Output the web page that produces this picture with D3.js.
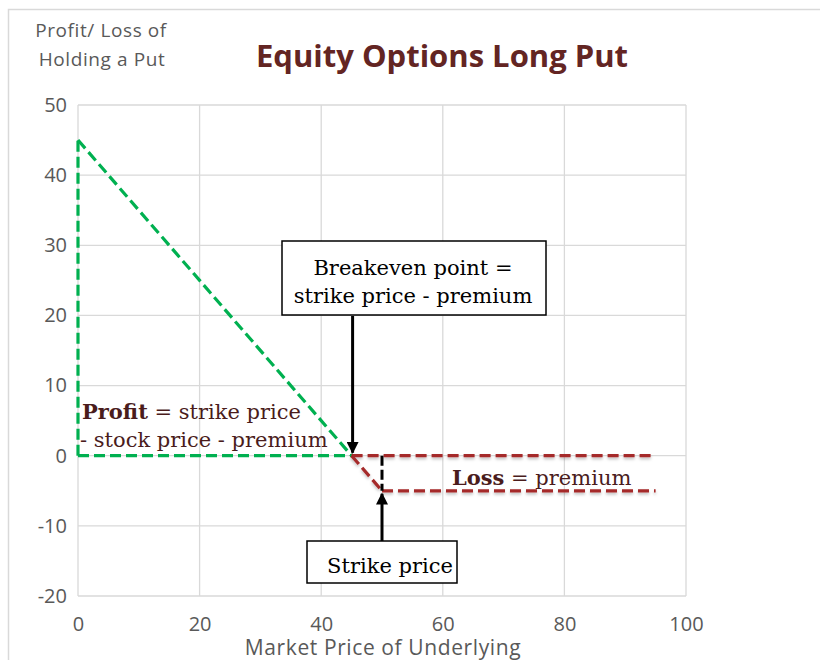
<!DOCTYPE html>
<html>
<head>
<meta charset="utf-8">
<script src="https://cdn.jsdelivr.net/npm/d3@7"></script>
<style>
  body { margin: 0; background: #fff; }
  .axis text { font-family: "Open Sans", sans-serif; }
  .note { font-family: "DejaVu Serif", "Liberation Serif", serif; }
</style>
</head>
<body>
<div id="chart"></div>
<script>
// axis ticks
var xTicks = [0, 20, 40, 60, 80, 100];
var yTicks = [-20, -10, 0, 10, 20, 30, 40, 50];

// payoff segments (market price, profit/loss)
var profitDiag = [[0, 45], [45, 0]];
var profitVert = [[0, 0], [0, 45]];
var profitBase = [[0, 0], [45, 0]];
var lossDiag = [[45, 0], [50, -5]];
var lossFloor = [[50, -5], [95, -5]];
var lossZero = [[45, 0], [95, 0]];
var strikeMark = [[50, 0], [50, -5]];

var breakeven = 45,
  strike = 50;

var width = 820,
  height = 660;

var svg = d3
  .select("#chart")
  .append("svg")
  .attr("width", width)
  .attr("height", height);

// outer frame
svg
  .append("rect")
  .attr("x", 8.5)
  .attr("y", 9.5)
  .attr("width", 830)
  .attr("height", 700)
  .attr("fill", "none")
  .attr("stroke", "#d9d9d9")
  .attr("stroke-width", 1.5);

var x = d3.scaleLinear().domain([0, 100]).range([78, 686]);
var y = d3.scaleLinear().domain([-20, 50]).range([596, 105]);

// grid
svg
  .append("g")
  .selectAll("line")
  .data(xTicks)
  .enter()
  .append("line")
  .attr("x1", (d) => x(d))
  .attr("x2", (d) => x(d))
  .attr("y1", y(50))
  .attr("y2", y(-20))
  .attr("stroke", "#d9d9d9")
  .attr("stroke-width", 1.3);

svg
  .append("g")
  .selectAll("line")
  .data(yTicks)
  .enter()
  .append("line")
  .attr("x1", x(0))
  .attr("x2", x(100))
  .attr("y1", (d) => y(d))
  .attr("y2", (d) => y(d))
  .attr("stroke", "#d9d9d9")
  .attr("stroke-width", 1.3);

// axes (labels only)
var xAxis = svg
  .append("g")
  .attr("class", "axis")
  .attr("transform", "translate(0," + y(-20) + ")")
  .call(
    d3
      .axisBottom(x)
      .tickValues(xTicks)
      .tickFormat((d) => String(d))
      .tickSize(0)
      .tickPadding(21)
  );
xAxis.select(".domain").remove();
xAxis.selectAll("text").attr("fill", "#595959").style("font-size", "20px");

var yAxis = svg
  .append("g")
  .attr("class", "axis")
  .attr("transform", "translate(" + x(0) + ",0)")
  .call(
    d3
      .axisLeft(y)
      .tickValues(yTicks)
      .tickFormat((d) => String(d))
      .tickSize(0)
      .tickPadding(11)
  );
yAxis.select(".domain").remove();
yAxis.selectAll("text").attr("fill", "#595959").style("font-size", "20px");

// titles
svg
  .append("text")
  .attr("x", 442)
  .attr("y", 67)
  .attr("text-anchor", "middle")
  .style("font-family", "'Open Sans', sans-serif")
  .style("font-weight", "bold")
  .style("font-size", "31px")
  .attr("fill", "#632523")
  .text("Equity Options Long Put");

svg
  .append("text")
  .attr("x", 101)
  .attr("y", 37)
  .attr("text-anchor", "middle")
  .style("font-family", "'Open Sans', sans-serif")
  .style("font-size", "19px")
  .style("letter-spacing", "0.6px")
  .attr("fill", "#595959")
  .text("Profit/ Loss of");
svg
  .append("text")
  .attr("x", 102)
  .attr("y", 66)
  .attr("text-anchor", "middle")
  .style("font-family", "'Open Sans', sans-serif")
  .style("font-size", "19px")
  .style("letter-spacing", "0.6px")
  .attr("fill", "#595959")
  .text("Holding a Put");

svg
  .append("text")
  .attr("x", 383)
  .attr("y", 655)
  .attr("text-anchor", "middle")
  .style("font-family", "'Open Sans', sans-serif")
  .style("font-size", "21px")
  .style("letter-spacing", "0.6px")
  .attr("fill", "#595959")
  .text("Market Price of Underlying");

// payoff lines
var line = d3
  .line()
  .x((d) => x(d[0]))
  .y((d) => y(d[1]));

var defs = svg.append("defs");
var shadow = defs
  .append("filter")
  .attr("id", "shadow")
  .attr("filterUnits", "userSpaceOnUse")
  .attr("x", 0)
  .attr("y", 0)
  .attr("width", width)
  .attr("height", height);
shadow
  .append("feDropShadow")
  .attr("dx", 0)
  .attr("dy", 2)
  .attr("stdDeviation", 1.5)
  .attr("flood-color", "#000")
  .attr("flood-opacity", 0.25);

[profitVert, profitBase, profitDiag].forEach(function (seg) {
  svg
    .append("path")
    .attr("d", line(seg))
    .attr("fill", "none")
    .attr("stroke", "#00b050")
    .attr("stroke-width", 3.2)
    .attr("stroke-dasharray", "11,5");
});

[lossZero, lossFloor, lossDiag].forEach(function (seg) {
  svg
    .append("path")
    .attr("d", line(seg))
    .attr("fill", "none")
    .attr("stroke", "#a52a2a")
    .attr("stroke-width", 3.2)
    .attr("stroke-dasharray", "11,5")
    .attr("filter", "url(#shadow)");
});

svg
  .append("path")
  .attr("d", line(strikeMark))
  .attr("fill", "none")
  .attr("stroke", "#000")
  .attr("stroke-width", 3)
  .attr("stroke-dasharray", "10,4");

// arrows
defs
  .append("marker")
  .attr("id", "arrow")
  .attr("viewBox", "0 0 10 10")
  .attr("refX", 9)
  .attr("refY", 5)
  .attr("markerWidth", 4)
  .attr("markerHeight", 4)
  .attr("orient", "auto")
  .append("path")
  .attr("d", "M0,0L10,5L0,10Z")
  .attr("fill", "#000");

svg
  .append("line")
  .attr("x1", x(breakeven) + 1)
  .attr("x2", x(breakeven) + 1)
  .attr("y1", 316)
  .attr("y2", y(0) - 3)
  .attr("stroke", "#000")
  .attr("stroke-width", 3)
  .attr("marker-end", "url(#arrow)");

svg
  .append("line")
  .attr("x1", x(strike))
  .attr("x2", x(strike))
  .attr("y1", 541)
  .attr("y2", y(-5) + 3)
  .attr("stroke", "#000")
  .attr("stroke-width", 3)
  .attr("marker-end", "url(#arrow)");

// callout boxes
svg
  .append("rect")
  .attr("x", 282)
  .attr("y", 241)
  .attr("width", 264)
  .attr("height", 74)
  .attr("fill", "#fff")
  .attr("stroke", "#000")
  .attr("stroke-width", 1.5);

svg
  .append("text")
  .attr("class", "note")
  .attr("x", 413)
  .attr("y", 275)
  .attr("text-anchor", "middle")
  .style("font-size", "21px")
  .text("Breakeven point =");
svg
  .append("text")
  .attr("class", "note")
  .attr("x", 413)
  .attr("y", 303)
  .attr("text-anchor", "middle")
  .style("font-size", "21px")
  .text("strike price - premium");

svg
  .append("rect")
  .attr("x", 307)
  .attr("y", 541)
  .attr("width", 150)
  .attr("height", 42)
  .attr("fill", "#fff")
  .attr("stroke", "#000")
  .attr("stroke-width", 1.5);

svg
  .append("text")
  .attr("class", "note")
  .attr("x", 390)
  .attr("y", 573)
  .attr("text-anchor", "middle")
  .style("font-size", "21px")
  .text("Strike price");

// profit / loss notes
var profitNote = svg
  .append("text")
  .attr("class", "note")
  .attr("x", 82)
  .attr("y", 419)
  .style("font-size", "21px")
  .attr("fill", "#4a1c1c");
profitNote.append("tspan").style("font-weight", "bold").text("Profit");
profitNote.append("tspan").text(" = strike price");

svg
  .append("text")
  .attr("class", "note")
  .attr("x", 80)
  .attr("y", 447)
  .style("font-size", "21px")
  .attr("fill", "#4a1c1c")
  .text("- stock price - premium");

var lossNote = svg
  .append("text")
  .attr("class", "note")
  .attr("x", 452)
  .attr("y", 485)
  .style("font-size", "21px")
  .attr("fill", "#4a1c1c");
lossNote.append("tspan").style("font-weight", "bold").text("Loss");
lossNote.append("tspan").text(" = premium");
</script>
</body>
</html>
